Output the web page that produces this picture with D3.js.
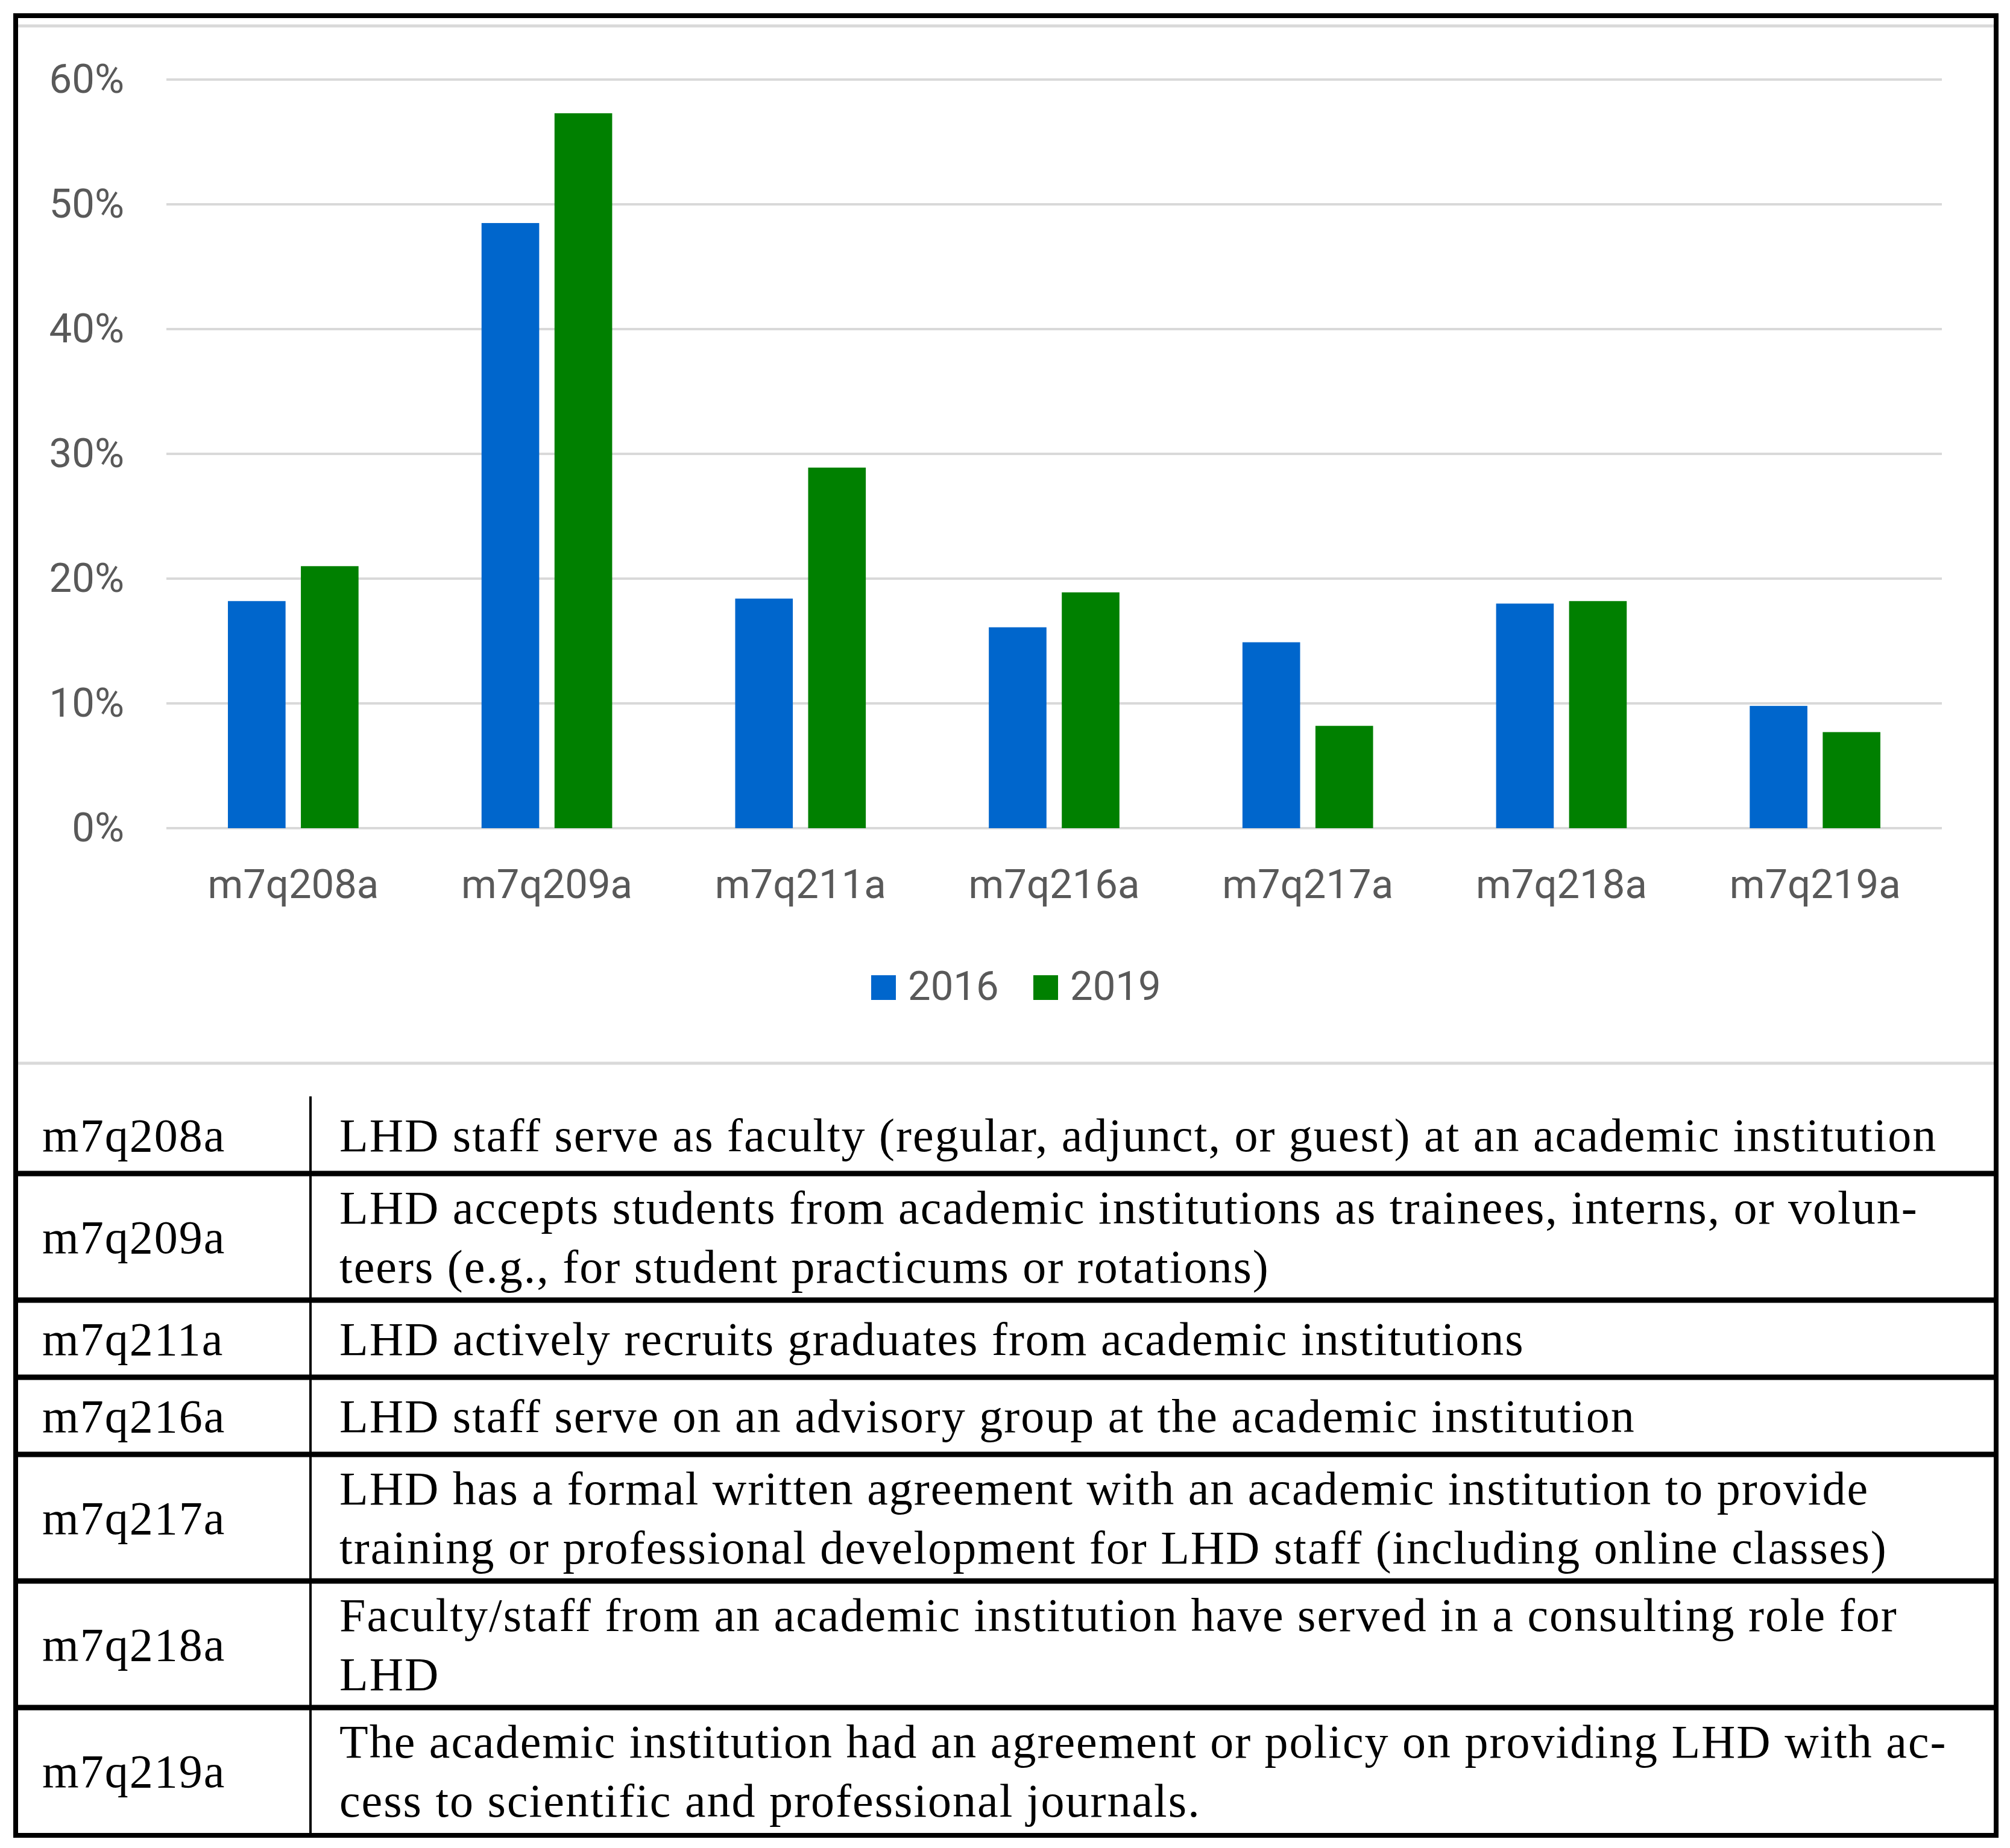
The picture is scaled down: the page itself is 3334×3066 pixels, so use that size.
<!DOCTYPE html>
<html>
<head>
<meta charset="utf-8">
<script src="https://cdn.jsdelivr.net/npm/d3@7"></script>
<style>
  html, body { margin: 0; padding: 0; background: #fff; }
</style>
</head>
<body>
<div id="chart"></div>
<script>
// ----------------------------------------------------------------------
// data

const categories = ["m7q208a", "m7q209a", "m7q211a", "m7q216a", "m7q217a", "m7q218a", "m7q219a"];
const seriesNames = ["2016", "2019"];
const values2016 = [0.182, 0.485, 0.184, 0.161, 0.149, 0.180, 0.098];
const values2019 = [0.210, 0.573, 0.289, 0.189, 0.082, 0.182, 0.077];
const yTicks = [0, 0.1, 0.2, 0.3, 0.4, 0.5, 0.6];

const descriptions = [
    ["LHD staff serve as faculty (regular, adjunct, or guest) at an academic institution"],
    ["LHD accepts students from academic institutions as trainees, interns, or volun-",
     "teers (e.g., for student practicums or rotations)"],
    ["LHD actively recruits graduates from academic institutions"],
    ["LHD staff serve on an advisory group at the academic institution"],
    ["LHD has a formal written agreement with an academic institution to provide",
     "training or professional development for LHD staff (including online classes)"],
    ["Faculty/staff from an academic institution have served in a consulting role for",
     "LHD"],
    ["The academic institution had an agreement or policy on providing LHD with ac-",
     "cess to scientific and professional journals."]
];

// ----------------------------------------------------------------------

const width = 3334;
const height = 3066;
const colors = {"2016": "#0066CC", "2019": "#008000"};
const axisFont = "Roboto, Lato, sans-serif";
const tableFont = "'Liberation Serif', 'DejaVu Serif', serif";

const svg = d3.select("#chart")
    .append("svg")
    .attr("width", width)
    .attr("height", height);

svg.append("rect")
    .attr("width", width)
    .attr("height", height)
    .attr("fill", "#fff");

const rows = categories.map((c, i) => ({cat: c, "2016": values2016[i], "2019": values2019[i]}));

const x0 = d3.scaleBand()
    .domain(categories)
    .range([276, 3221])
    .paddingInner(0.485)
    .paddingOuter(0.2425);

const x1 = d3.scaleBand()
    .domain(seriesNames)
    .range([0, x0.bandwidth()])
    .paddingInner(0.21);

const y = d3.scaleLinear()
    .domain([0, 0.6])
    .range([1374, 132]);

// gridlines
svg.append("g")
    .selectAll("line")
    .data(yTicks)
    .enter()
    .append("line")
    .attr("x1", 276)
    .attr("x2", 3221)
    .attr("y1", d => y(d))
    .attr("y2", d => y(d))
    .attr("stroke", "#d9d9d9")
    .attr("stroke-width", 4);

// y axis labels
const yAxis = d3.axisLeft(y)
    .tickValues(yTicks)
    .tickFormat(d3.format(".0%"))
    .tickSize(0)
    .tickPadding(70);

const yg = svg.append("g")
    .attr("transform", "translate(276,0)")
    .call(yAxis);
yg.select(".domain").remove();
yg.selectAll("text")
    .attr("font-family", axisFont)
    .attr("font-size", 67)
    .attr("fill", "#595959");

// bars
svg.append("g")
    .selectAll("g")
    .data(rows)
    .enter()
    .append("g")
    .attr("transform", d => "translate(" + x0(d.cat) + ",0)")
    .selectAll("rect")
    .data(d => seriesNames.map(s => ({key: s, value: d[s]})))
    .enter()
    .append("rect")
    .attr("x", d => x1(d.key))
    .attr("width", x1.bandwidth())
    .attr("y", d => y(d.value))
    .attr("height", d => y(0) - y(d.value))
    .attr("fill", d => colors[d.key]);

// x axis labels
const xAxis = d3.axisBottom(x0)
    .tickSize(0)
    .tickPadding(68);

const xg = svg.append("g")
    .attr("transform", "translate(0," + y(0) + ")")
    .call(xAxis);
xg.select(".domain").remove();
xg.selectAll("text")
    .attr("font-family", axisFont)
    .attr("font-size", 67)
    .attr("fill", "#595959");

// legend
const legend = svg.append("g")
    .selectAll("g")
    .data(seriesNames)
    .enter()
    .append("g")
    .attr("transform", (d, i) => "translate(" + (1445 + i * 269) + ",1618)");

legend.append("rect")
    .attr("width", 41)
    .attr("height", 41)
    .attr("fill", d => colors[d]);

legend.append("text")
    .attr("x", 61)
    .attr("y", 41)
    .attr("font-family", axisFont)
    .attr("font-size", 67)
    .attr("fill", "#595959")
    .text(d => d);

// chart frame lines
svg.append("line")
    .attr("x1", 30).attr("x2", 3307)
    .attr("y1", 43).attr("y2", 43)
    .attr("stroke", "#d9d9d9")
    .attr("stroke-width", 5);

svg.append("line")
    .attr("x1", 30).attr("x2", 3307)
    .attr("y1", 1764).attr("y2", 1764)
    .attr("stroke", "#d9d9d9")
    .attr("stroke-width", 5);

// ----------------------------------------------------------------------
// table

const tableTop = 1819;
const lineGap = 98;
let yPos = tableTop;
const tableRows = descriptions.map((lines, i) => {
    const h = 46 + 82 * lines.length;
    const r = {cat: categories[i], lines: lines, top: yPos, h: h};
    yPos += h;
    return r;
});

const tg = svg.append("g");

tg.append("line")
    .attr("x1", 515).attr("x2", 515)
    .attr("y1", tableTop).attr("y2", 3045)
    .attr("stroke", "#000")
    .attr("stroke-width", 4);

tg.selectAll("line.sep")
    .data(tableRows.slice(0, -1))
    .enter()
    .append("line")
    .attr("class", "sep")
    .attr("x1", 26).attr("x2", 3311)
    .attr("y1", d => d.top + d.h)
    .attr("y2", d => d.top + d.h)
    .attr("stroke", "#000")
    .attr("stroke-width", 9);

const cells = tg.selectAll("g.row")
    .data(tableRows)
    .enter()
    .append("g")
    .attr("class", "row");

cells.append("text")
    .attr("x", 70)
    .attr("y", d => d.top + d.h / 2)
    .attr("dy", "0.35em")
    .attr("font-family", tableFont)
    .attr("font-size", 78)
    .attr("letter-spacing", 2)
    .attr("fill", "#000")
    .text(d => d.cat);

cells.selectAll("text.desc")
    .data(d => d.lines.map((l, j) => ({text: l, y: d.top + d.h / 2 + (j - (d.lines.length - 1) / 2) * lineGap})))
    .enter()
    .append("text")
    .attr("class", "desc")
    .attr("x", 563)
    .attr("y", d => d.y)
    .attr("dy", "0.35em")
    .attr("font-family", tableFont)
    .attr("font-size", 78)
    .attr("letter-spacing", 2)
    .attr("fill", "#000")
    .text(d => d.text);

// outer border
svg.append("rect")
    .attr("x", 26)
    .attr("y", 26)
    .attr("width", 3285)
    .attr("height", 3019)
    .attr("fill", "none")
    .attr("stroke", "#000")
    .attr("stroke-width", 8);
</script>
</body>
</html>
